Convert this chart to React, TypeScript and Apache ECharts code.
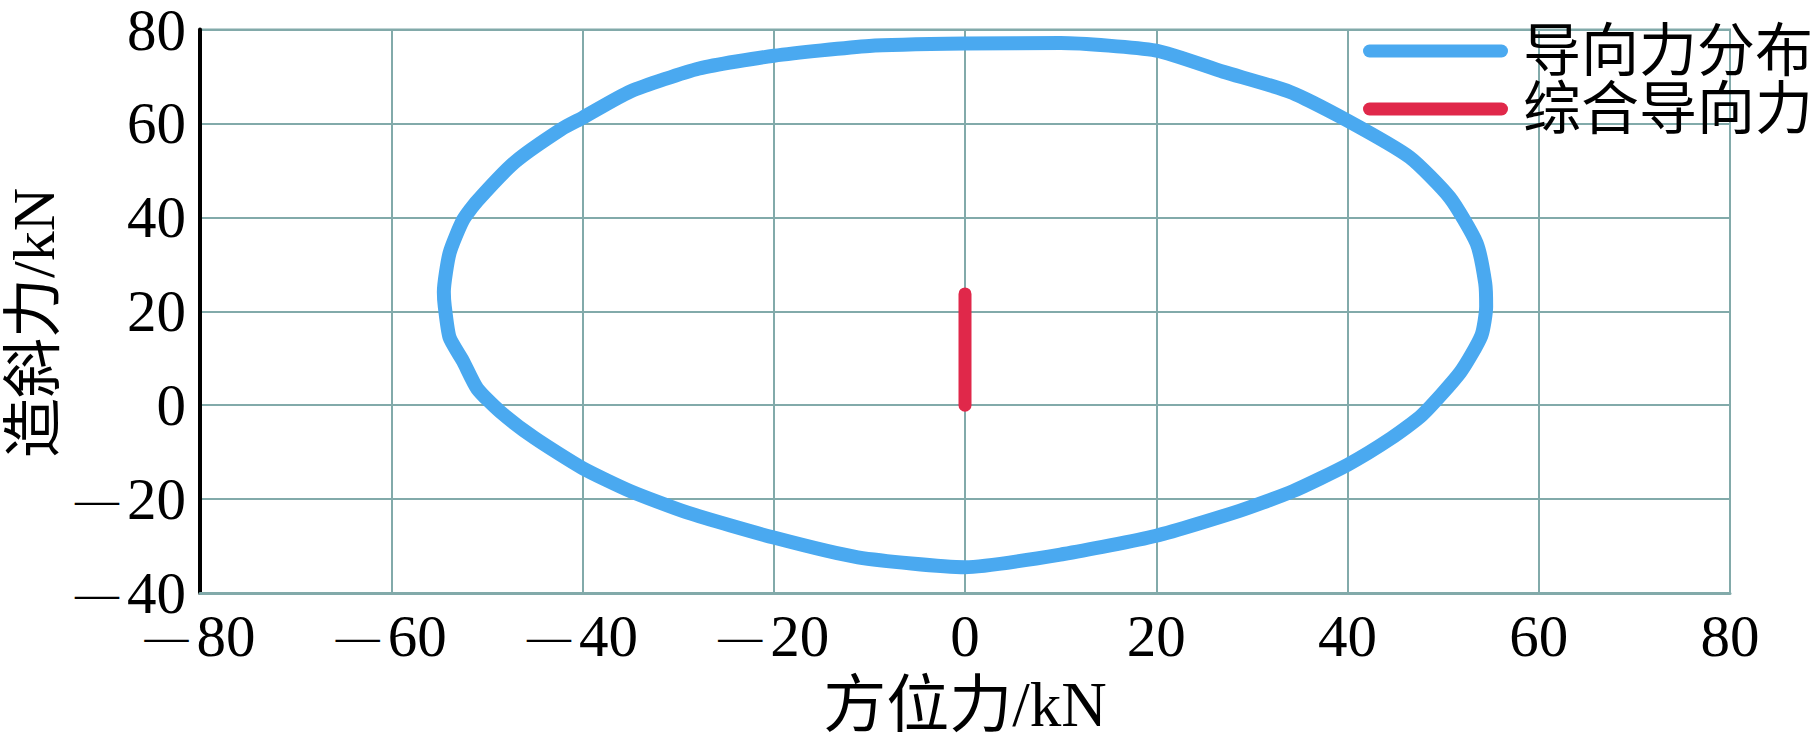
import React, { useEffect, useRef } from "react";
import * as echarts from "echarts";

// 导向力分布 (closed loop, clockwise from top)
const distX = [0, 10, 20, 27, 34, 40, 46.5, 50.7, 53.5, 54.4, 54.5, 54.0, 51.8, 47.8, 44.6, 40, 34.3, 28.7, 20, 10.3, 0, -11.2, -20, -29, -35, -40, -45, -48.6, -51, -52.5, -53.9, -54.4, -54.5, -53.9, -52.5, -51, -47, -42.2, -40, -35, -27.8, -20, -10, 0];
const distY = [77.0, 77.1, 75.5, 71.0, 66.7, 60.6, 52.8, 44.2, 34.5, 26, 21, 14.8, 7.0, -2.1, -7.0, -12.7, -18.3, -22.5, -27.8, -31.7, -34.5, -32.4, -28.2, -22.9, -18.3, -13.4, -7.0, -1.4, 3.5, 9.4, 14.4, 21, 24.1, 32.4, 39.4, 43.5, 51.9, 58.8, 61.2, 66.8, 71.7, 74.4, 76.5, 77.0];

// 综合导向力
const resultX = [0, 0];
const resultY = [0, 23.7];

const seriesNames = ["导向力分布", "综合导向力"];
const xTicks = { min: -80, max: 80, interval: 20 };
const yTicks = { min: -40, max: 80, interval: 20 };
const xName = "方位力/kN";
const yName = "造斜力/kN";

const BLUE = "#4aa9f0";
const RED = "#e0284a";
const GRID = "#82aaaa";
const SERIF = "'Liberation Serif', 'Times New Roman', 'Noto Sans CJK SC', serif";

export default function App() {
  const ref = useRef<HTMLDivElement>(null);
  useEffect(() => {
    if (!ref.current) return;
    const chart = echarts.init(ref.current, undefined, { renderer: "svg" });
    const fmt = (v: number) => (v < 0 ? `{d|—}{n|${-v}}` : `{n|${v}}`);
    const rich = {
      d: { fontSize: 44, lineHeight: 44, fontFamily: SERIF, color: "#000", padding: [0, 8, 0, 0] },
      n: { fontSize: 59, lineHeight: 44, fontFamily: SERIF, color: "#000" },
    };
    const legendIcon = "path://M6.5,0 H138.5 A6.5,6.5 0 0 1 138.5,13 H6.5 A6.5,6.5 0 0 1 6.5,0 Z";
    chart.setOption({
      animation: false,
      backgroundColor: "#fff",
      grid: {
        left: 200,
        right: 88,
        top: 18,
        bottom: 149,
        show: true,
        borderColor: GRID,
        borderWidth: 2,
      },
      legend: {
        orient: "vertical",
        left: 1358,
        top: 17,
        itemWidth: 145,
        itemHeight: 13,
        itemGap: 0,
        symbolKeepAspect: false,
        data: [
          { name: seriesNames[0], icon: legendIcon, itemStyle: { color: BLUE } },
          { name: seriesNames[1], icon: legendIcon, itemStyle: { color: RED } },
        ],
        textStyle: {
          fontSize: 58,
          lineHeight: 58,
          fontFamily: SERIF,
          color: "#000",
          padding: [0, 0, 0, 10],
        },
      },
      xAxis: {
        type: "value",
        min: xTicks.min,
        max: xTicks.max,
        interval: xTicks.interval,
        name: xName,
        nameLocation: "middle",
        nameGap: 80,
        nameTextStyle: { fontSize: 63, fontFamily: SERIF, color: "#000" },
        axisLine: { show: true, onZero: false, lineStyle: { color: GRID, width: 3 } },
        axisTick: { show: false },
        axisLabel: { margin: 21, formatter: fmt, rich },
        splitLine: { show: true, lineStyle: { color: GRID, width: 2 } },
      },
      yAxis: {
        type: "value",
        min: yTicks.min,
        max: yTicks.max,
        interval: yTicks.interval,
        axisLine: { show: true, onZero: false, lineStyle: { color: "#000", width: 4 } },
        axisTick: { show: false },
        axisLabel: { margin: 14, formatter: fmt, rich },
        splitLine: { show: true, lineStyle: { color: GRID, width: 2 } },
      },
      graphic: [
        {
          type: "text",
          x: 34,
          y: 323,
          rotation: Math.PI / 2,
          style: {
            text: yName,
            font: `60px ${SERIF}`,
            fill: "#000",
            align: "center",
            verticalAlign: "middle",
          },
        },
      ],
      series: [
        {
          name: seriesNames[0],
          type: "line",
          data: distX.map((x, i) => [x, distY[i]]),
          symbol: "none",
          smooth: 0.2,
          lineStyle: { color: BLUE, width: 14, join: "round", cap: "round" },
          itemStyle: { color: BLUE },
          z: 3,
        },
        {
          name: seriesNames[1],
          type: "line",
          data: resultX.map((x, i) => [x, resultY[i]]),
          symbol: "none",
          lineStyle: { color: RED, width: 13, cap: "round" },
          itemStyle: { color: RED },
          z: 4,
        },
      ],
    });
    return () => chart.dispose();
  }, []);
  return (
    <div
      ref={ref}
      style={{ position: "fixed", left: 0, top: 0, width: 1818, height: 742 }}
    />
  );
}
